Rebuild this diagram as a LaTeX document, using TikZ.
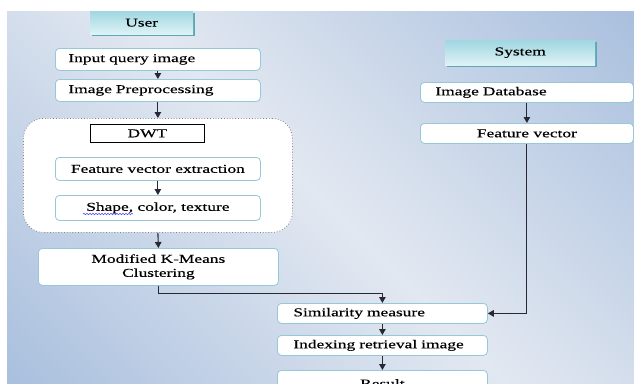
\documentclass[tikz,border=0pt]{standalone}
\usepackage{fontspec}
\setmainfont{Liberation Serif}[FakeStretch=1.45, FakeBold=0.3]
\usetikzlibrary{arrows.meta,shadows,decorations.pathmorphing}
\definecolor{bgin}{RGB}{226,232,241}
\definecolor{bgout}{RGB}{170,192,222}
\definecolor{boxedge}{RGB}{150,200,215}
\definecolor{hdtop}{RGB}{160,215,225}
\definecolor{hdbot}{RGB}{222,243,246}
\definecolor{hdshadow}{RGB}{95,165,180}
\definecolor{conn}{RGB}{40,40,50}
\pgfdeclarehorizontalshading{bgshade}{100bp}{color(0bp)=(bgout); color(15bp)=(bgout); color(50bp)=(bgin); color(85bp)=(bgout); color(100bp)=(bgout)}
\tikzset{
  box/.style={draw=boxedge, fill=white, line width=0.8pt, rounded corners=4pt,
    inner ysep=0pt, inner xsep=0pt, anchor=north west, align=center,
    font=\fontsize{12}{14}\selectfont},
  lbox/.style={box, align=left},
  header/.style={draw=none, top color=hdtop, bottom color=hdbot, anchor=north west,
    general shadow={shadow xshift=1.5pt, shadow yshift=-1.5pt, fill=hdshadow},
    inner sep=0pt, font=\fontsize{12}{14}\selectfont},
  conn/.style={draw=conn, line width=1.1pt, -{Triangle[length=6pt,width=6.5pt]}},
}
\begin{document}
\begin{tikzpicture}[x=1pt,y=1pt]
\useasboundingbox (0,0) rectangle (634,-383);
\clip (0,0) rectangle (634,-383);
\fill[white] (0,0) rectangle (634,-383);
\shade[shading=bgshade, shading angle=45] (7,-11) rectangle (634,-383);

% headers
\node[header, minimum width=103pt, minimum height=23pt] (user) at (90,-11) {User};
\node[header, minimum width=150pt, minimum height=25pt] (sys) at (445,-40) {System};

% left column
\node[lbox, text width=179pt, inner xsep=13pt, minimum height=22pt] (inp) at (55,-48) {Input query image};
\node[lbox, text width=179pt, inner xsep=13pt, minimum height=22pt] (pre) at (55,-79) {Image Preprocessing};
\node[draw=gray, dotted, line width=0.8pt, fill=white, rounded corners=20pt, anchor=north west,
      minimum width=269pt, minimum height=114pt, inner sep=0pt] (big) at (23,-118) {};
\node[draw=black, line width=0.8pt, fill=white, anchor=north west, minimum width=114pt,
      minimum height=18pt, inner sep=0pt, font=\fontsize{12}{14}\selectfont] (dwt) at (90,-124) {DWT};
\node[box, minimum width=205pt, minimum height=23pt] (fve) at (55,-157) {Feature vector extraction};
\node[box, minimum width=205pt, minimum height=25pt] (shp) at (55,-195) {Shape, color, texture};
\draw[blue!70!white, line width=0.6pt, decorate, decoration={snake, amplitude=0.7pt, segment length=3pt}]
  (83,-214) -- (133,-214);
\node[box, minimum width=240pt, minimum height=37pt] (km) at (38,-248) {Modified K-Means\\Clustering};

% bottom column
\node[lbox, text width=178pt, inner xsep=16pt, minimum height=20pt] (sim) at (277,-303) {Similarity measure};
\node[lbox, text width=178pt, inner xsep=16pt, minimum height=20pt] (idx) at (277,-335) {Indexing retrieval image};
\node[box, minimum width=210pt, minimum height=26pt] (res) at (277,-370) {Result};

% right column
\node[lbox, text width=183pt, inner xsep=15pt, minimum height=20pt] (db) at (420,-82) {Image Database};
\node[box, minimum width=213pt, minimum height=20pt] (fv) at (420,-123) {Feature vector};

% connectors
\draw[conn] (inp.south) -- (pre.north);
\draw[conn] (pre.south) -- (big.north);
\draw[conn] (fve.south) -- (shp.north);
\draw[conn] (big.south) -- (km.north);
\draw[conn] (km.south) -- ++(0,-8) -| (sim.north);
\draw[conn] (sim.south) -- (idx.north);
\draw[conn] (idx.south) -- (res.north);
\draw[conn] (db.south) -- (fv.north);
\draw[conn] (fv.south) |- (sim.east);
\end{tikzpicture}
\end{document}
